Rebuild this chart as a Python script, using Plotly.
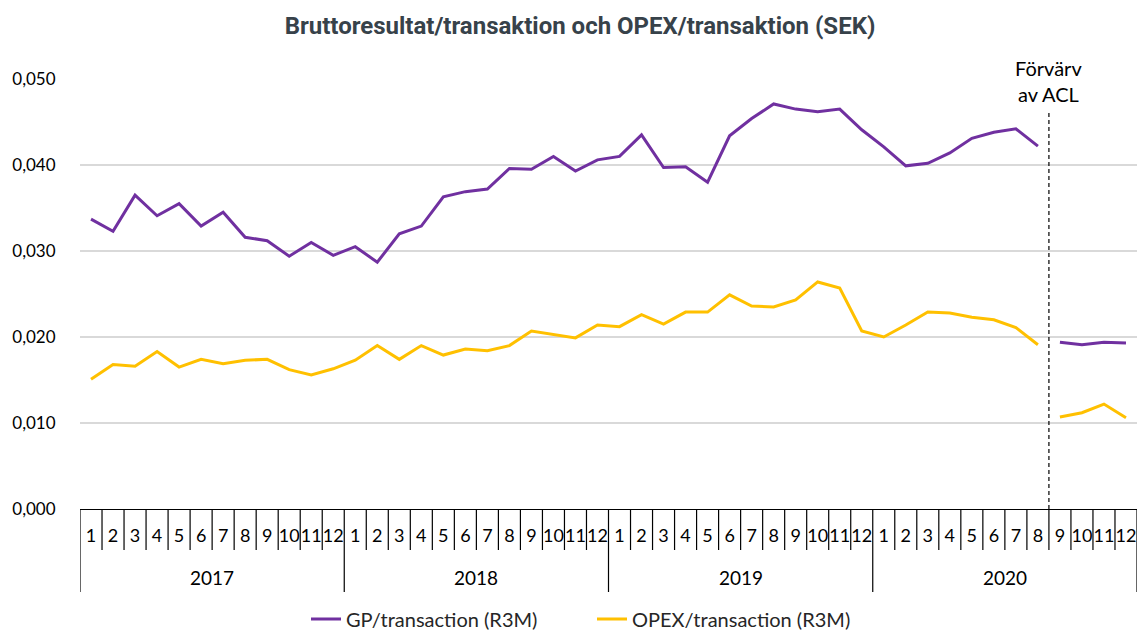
import plotly.graph_objects as go

years = ["2017", "2018", "2019", "2020"]
months = [str(m) for m in range(1, 13)] * 4

gp_values = [
    0.0337, 0.0323, 0.0365, 0.0341, 0.0355, 0.0329, 0.0345, 0.0316, 0.0312, 0.0294, 0.0310, 0.0295,
    0.0305, 0.0287, 0.0320, 0.0329, 0.0363, 0.0369, 0.0372, 0.0396, 0.0395, 0.0410, 0.0393, 0.0406,
    0.0410, 0.0435, 0.0397, 0.0398, 0.0380, 0.0434, 0.0454, 0.0471, 0.0465, 0.0462, 0.0465, 0.0441,
    0.0421, 0.0399, 0.0402, 0.0414, 0.0431, 0.0438, 0.0442, 0.0422, 0.0194, 0.0191, 0.0194, 0.0193,
]
opex_values = [
    0.0151, 0.0168, 0.0166, 0.0183, 0.0165, 0.0174, 0.0169, 0.0173, 0.0174, 0.0162, 0.0156, 0.0163,
    0.0173, 0.0190, 0.0174, 0.0190, 0.0179, 0.0186, 0.0184, 0.0190, 0.0207, 0.0203, 0.0199, 0.0214,
    0.0212, 0.0226, 0.0215, 0.0229, 0.0229, 0.0249, 0.0236, 0.0235, 0.0243, 0.0264, 0.0257, 0.0207,
    0.0200, 0.0214, 0.0229, 0.0228, 0.0223, 0.0220, 0.0211, 0.0191, 0.0107, 0.0112, 0.0122, 0.0106,
]
break_index = 44  # acquisition of ACL after 2020-8

gp_name = "GP/transaction (R3M)"
opex_name = "OPEX/transaction (R3M)"
gp_color = "#7030A0"
opex_color = "#FFC000"

x_idx = list(range(len(months)))

fig = go.Figure()
for name, vals, col in [(gp_name, gp_values, gp_color), (opex_name, opex_values, opex_color)]:
    fig.add_trace(go.Scatter(
        x=x_idx[:break_index], y=vals[:break_index], mode="lines", name=name,
        legendgroup=name, line=dict(color=col, width=3)))
    fig.add_trace(go.Scatter(
        x=x_idx[break_index:], y=vals[break_index:], mode="lines", name=name,
        legendgroup=name, showlegend=False, line=dict(color=col, width=3)))

font_main = "Lato, 'Open Sans', sans-serif"
plot_h = 632 - 79 - 123

def py(px):
    return (509 - px) / plot_h

shapes = []
# month / year separators
for k in range(len(months) + 1):
    is_year = (k % 12 == 0)
    shapes.append(dict(type="line", xref="x", yref="paper",
                       x0=k - 0.5, x1=k - 0.5, y0=0, y1=py(592 if is_year else 550),
                       line=dict(color="#000000", width=1.2)))
# acquisition line
shapes.append(dict(type="line", xref="x", yref="paper",
                   x0=break_index - 0.5, x1=break_index - 0.5, y0=0, y1=py(113),
                   line=dict(color="#000000", width=1.2, dash="4px,3px")))

annotations = []
for i, yr in enumerate(years):
    annotations.append(dict(x=i * 12 + 5.5, y=py(577), xref="x", yref="paper",
                            text=yr, showarrow=False, yanchor="middle",
                            font=dict(family=font_main, size=19, color="#000000")))
annotations.append(dict(x=break_index - 0.5, y=py(81), xref="x", yref="paper",
                        text="Förvärv<br>av ACL", showarrow=False, yanchor="middle",
                        font=dict(family=font_main, size=20, color="#000000")))

fig.update_layout(
    width=1137, height=632,
    margin=dict(l=80, r=0, t=79, b=123, autoexpand=False),
    paper_bgcolor="white", plot_bgcolor="white",
    separators=", ",
    title=dict(text="<b>Bruttoresultat/transaktion och OPEX/transaktion (SEK)</b>",
               x=580 / 1137, xref="container", xanchor="center", y=1 - 26 / 632, yanchor="middle",
               font=dict(family="Roboto, sans-serif", size=24, color="#37424A")),
    xaxis=dict(range=[-0.5, len(months) - 0.5], tickmode="array", tickvals=x_idx,
               ticktext=months, showgrid=False, zeroline=False,
               showline=True, linecolor="#000000", linewidth=1.2,
               ticks="outside", ticklen=10, tickcolor="rgba(0,0,0,0)", tickangle=0,
               tickfont=dict(family=font_main, size=18, color="#000000")),
    yaxis=dict(range=[0, 0.05], tickvals=[0, 0.01, 0.02, 0.03, 0.04, 0.05],
               tickformat=".3f", showgrid=True, gridcolor="#D9D9D9", gridwidth=1.5,
               zeroline=False, showline=False, ticks="outside", ticklen=20,
               tickcolor="rgba(0,0,0,0)",
               tickfont=dict(family=font_main, size=17, color="#000000")),
    legend=dict(orientation="h", x=306 / 1137, xref="container", xanchor="left",
                y=py(619), yref="paper", yanchor="middle",
                entrywidth=241, entrywidthmode="pixels",
                font=dict(family=font_main, size=20, color="#262626"),
                tracegroupgap=0),
    shapes=shapes, annotations=annotations,
)

fig.write_html("out.html")
